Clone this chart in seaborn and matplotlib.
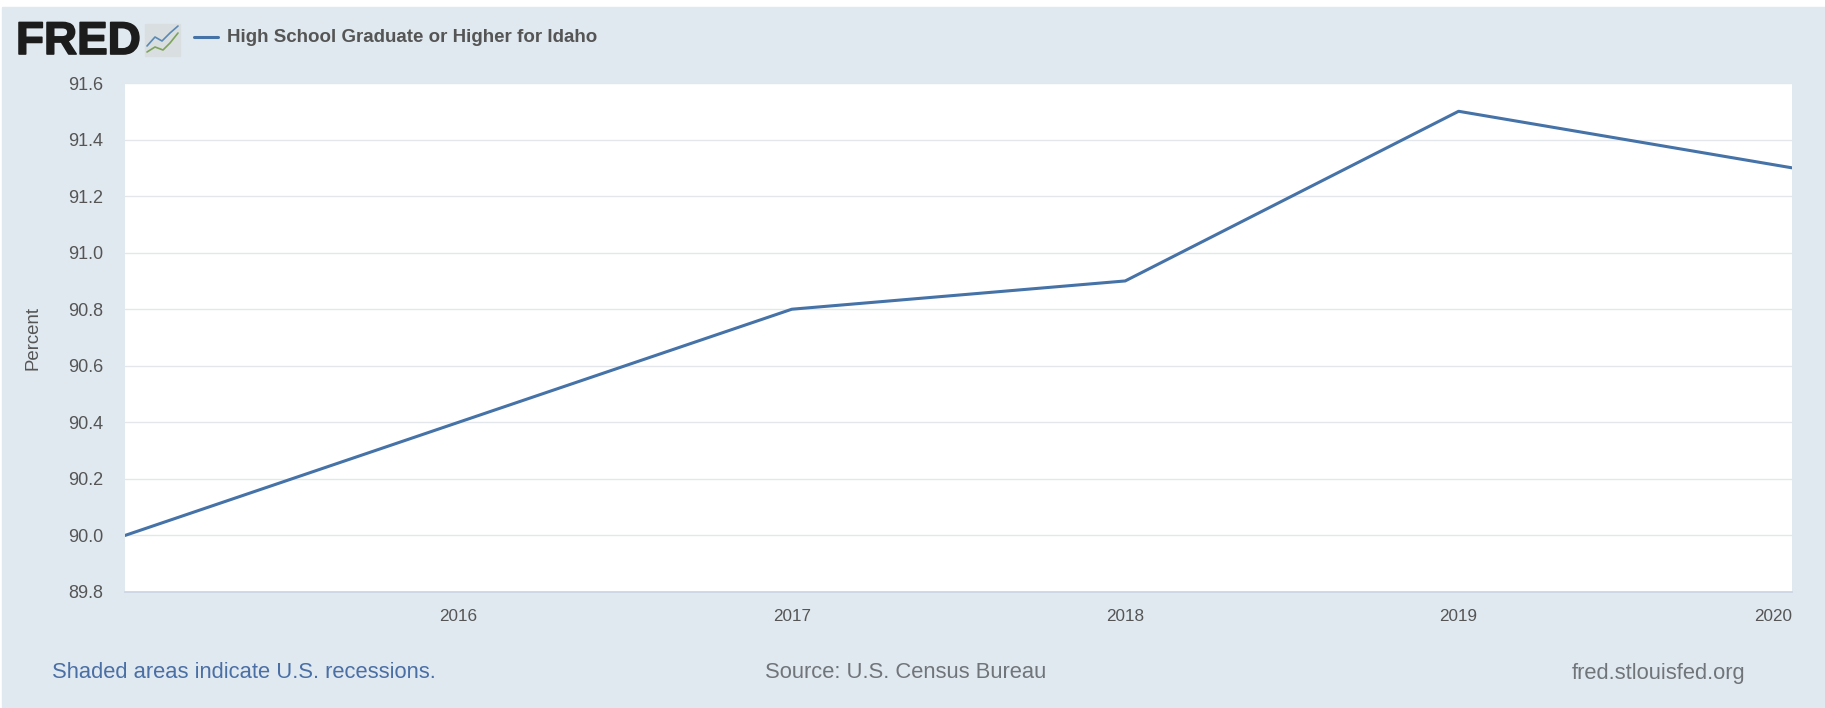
import matplotlib
matplotlib.use("Agg")
import matplotlib.pyplot as plt
from matplotlib.patches import Rectangle
import matplotlib.patheffects as pe
import pandas as pd
import seaborn as sns

years = [2015, 2016, 2017, 2018, 2019, 2020]
percent = [90.0, 90.4, 90.8, 90.9, 91.5, 91.3]
y_ticks = [89.8, 90.0, 90.2, 90.4, 90.6, 90.8, 91.0, 91.2, 91.4, 91.6]
x_ticks = [2016, 2017, 2018, 2019, 2020]
series_name = "High School Graduate or Higher for Idaho"

W, H = 1825, 708
BG = "#e1e9f0"
LINE = "#4572a7"
TXT = "#555555"


def fx(px):
    return px / W


def fy(px):
    return 1 - px / H


sns.set_theme(style="white")
plt.rcParams["font.family"] = ["Liberation Sans", "DejaVu Sans"]

fig = plt.figure(figsize=(W / 100, H / 100), dpi=100, facecolor="white")
fig.add_artist(Rectangle((fx(2), 0), 1 - fx(2), fy(7), transform=fig.transFigure, color=BG, zorder=0))

ax = fig.add_axes([fx(125), fy(592), fx(1792 - 125), fy(83) - fy(592)])
df = pd.DataFrame({"year": years, "percent": percent})
sns.lineplot(data=df, x="year", y="percent", color=LINE, linewidth=2.2, ax=ax, errorbar=None)

ax.set_xlim(years[0], years[-1])
ax.set_ylim(y_ticks[0], y_ticks[-1])
ax.set_yticks(y_ticks)
ax.set_yticklabels([f"{v:.1f}" for v in y_ticks])
ax.set_xticks(x_ticks)
ax.set_xticklabels([str(v) for v in x_ticks])
ax.grid(axis="y", color="#e3e6ea", linewidth=1)
ax.set_axisbelow(True)
for name, sp in ax.spines.items():
    sp.set_visible(name == "bottom")
ax.spines["bottom"].set_color("#cdd6e6")
ax.spines["bottom"].set_linewidth(1.3)
ax.tick_params(axis="x", length=10, width=1, color="#cdd6e6", labelsize=12.3, labelcolor=TXT, pad=2)
ax.tick_params(axis="y", length=0, labelsize=13, labelcolor=TXT, pad=15.5)
ax.get_xticklabels()[-1].set_ha("right")
ax.set_xlabel("")
ax.set_ylabel("Percent", fontsize=13.4, color=TXT, labelpad=19)

# header: logo and legend
logo = fig.text(fx(16), fy(54), "FRED", fontsize=33, fontweight="bold", color="#1c1c1c", va="baseline", ha="left")
logo.set_path_effects([pe.withStroke(linewidth=1.2, foreground="#1c1c1c")])
fig.add_artist(Rectangle((fx(145), fy(56)), fx(35), fy(24) - fy(56), transform=fig.transFigure,
                         color="#d9dfe0", zorder=1))
fig.add_artist(plt.Line2D([fx(147), fx(155), fx(162), fx(170), fx(178)],
                          [fy(46), fy(37), fy(41), fy(33), fy(26)], color="#5b88b5", linewidth=1.2))
fig.add_artist(plt.Line2D([fx(147), fx(155), fx(163), fx(170), fx(178)],
                          [fy(52), fy(47), fy(50), fy(43), fy(33)], color="#7ea35a", linewidth=1.2))
fig.add_artist(plt.Line2D([fx(194), fx(218)], [fy(37), fy(37)], color=LINE, linewidth=2.2))
fig.text(fx(227), fy(37), series_name, fontsize=13.5, fontweight="bold", color="#555555", va="center", ha="left")

# footer
fig.text(fx(52), fy(673), "Shaded areas indicate U.S. recessions.", fontsize=15.8, color="#4a6fa5", va="center")
fig.text(fx(765), fy(673), "Source: U.S. Census Bureau", fontsize=15.8, color="#70757a", va="center")
fig.text(fx(1745), fy(673), "fred.stlouisfed.org", fontsize=15.8, color="#70757a", va="center", ha="right")

fig.savefig("out.png", dpi=100, facecolor=fig.get_facecolor())
